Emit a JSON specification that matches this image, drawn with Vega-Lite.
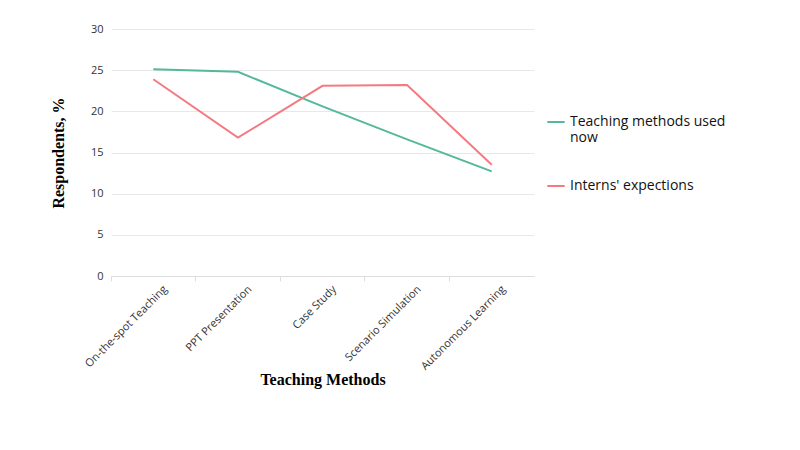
{
  "$schema": "https://vega.github.io/schema/vega-lite/v6.json",
  "autosize": {"type": "none"},
  "padding": {"left": 111, "top": 29, "right": 266, "bottom": 174},
  "width": 423,
  "height": 247,
  "background": "white",
  "config": {"view": {"stroke": null}, "font": "Open Sans"},
  "data": {"values": [
    {"method": "On-the-spot Teaching", "series": "Teaching methods used now", "value": 25.1},
    {"method": "PPT Presentation", "series": "Teaching methods used now", "value": 24.8},
    {"method": "Case Study", "series": "Teaching methods used now", "value": 20.6},
    {"method": "Scenario Simulation", "series": "Teaching methods used now", "value": 16.6},
    {"method": "Autonomous Learning", "series": "Teaching methods used now", "value": 12.7},
    {"method": "On-the-spot Teaching", "series": "Interns' expections", "value": 23.9},
    {"method": "PPT Presentation", "series": "Interns' expections", "value": 16.8},
    {"method": "Case Study", "series": "Interns' expections", "value": 23.1},
    {"method": "Scenario Simulation", "series": "Interns' expections", "value": 23.2},
    {"method": "Autonomous Learning", "series": "Interns' expections", "value": 13.5}
  ]},
  "mark": {"type": "line", "strokeWidth": 2},
  "encoding": {
    "x": {
      "field": "method", "type": "nominal", "sort": null,
      "scale": {"type": "band", "paddingInner": 0, "paddingOuter": 0},
      "axis": {
        "title": "Teaching Methods", "titleFont": "Liberation Serif", "titleFontSize": 16, "titleFontWeight": "bold", "titleColor": "#000", "titlePadding": 0,
        "labelAngle": -45, "labelAlign": "right", "labelBaseline": "top", "labelFontSize": 11, "labelColor": "#333", "labelPadding": 2, "labelOffset": 8,
        "bandPosition": 0, "domainColor": "#dddddd", "tickColor": "#dddddd", "tickSize": 5, "grid": false
      }
    },
    "y": {
      "field": "value", "type": "quantitative",
      "scale": {"domain": [0, 30]},
      "axis": {
        "title": "Respondents, %", "titleFont": "Liberation Serif", "titleFontSize": 16, "titleFontWeight": "bold", "titleColor": "#000", "titlePadding": 24,
        "values": [0, 5, 10, 15, 20, 25, 30], "domain": false, "ticks": false, "labelPadding": 8, "labelFontSize": 11, "labelColor": "#333",
        "gridColor": "#e8e8e8"
      }
    },
    "color": {
      "field": "series", "type": "nominal", "sort": ["Teaching methods used now", "Interns' expections"],
      "scale": {"domain": ["Teaching methods used now", "Interns' expections"], "range": ["#55b89c", "#f47a82"]},
      "legend": {
        "title": null, "orient": "none", "legendX": 435, "legendY": 83,
        "symbolType": "stroke", "symbolStrokeWidth": 2, "symbolSize": 300,
        "labelFontSize": 14, "labelColor": "#111", "labelLimit": 300, "rowPadding": 31,
        "labelExpr": "datum.label == 'Teaching methods used now' ? ['Teaching methods used', 'now'] : datum.label"
      }
    }
  }
}
